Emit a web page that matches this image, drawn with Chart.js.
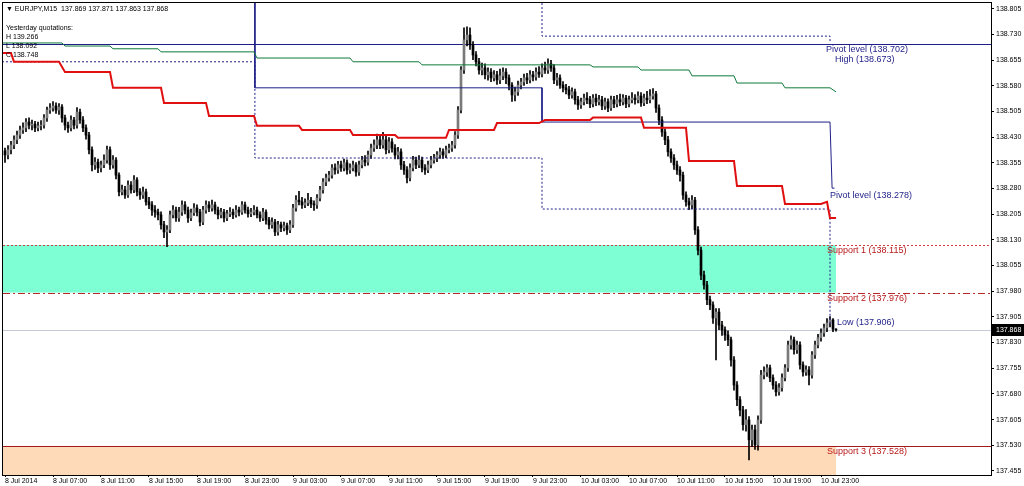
<!DOCTYPE html>
<html>
<head>
<meta charset="utf-8">
<title>EURJPY,M15</title>
<script src="https://cdn.jsdelivr.net/npm/chart.js@4.4.1/dist/chart.umd.min.js"></script>
<style>
  html, body { margin: 0; padding: 0; background: #fff; }
</style>
</head>
<body>
<canvas id="myChart" width="1024" height="486"></canvas>
<script>
// EURJPY M15 bars, 8 Jul 03:00 .. 11 Jul 00:15 (open of each bar = close of the one before)
var firstOpen = 138.390;
var closes = [
  138.378,138.393,138.407,138.422,138.436,138.451,138.457,138.474,138.465,138.468,
  138.457,138.463,138.465,138.486,138.509,138.515,138.521,138.509,138.518,138.486,
  138.465,138.457,138.480,138.465,138.503,138.480,138.457,138.436,138.393,138.349,
  138.357,138.340,138.349,138.363,138.393,138.349,138.363,138.319,138.270,138.276,
  138.261,138.290,138.276,138.305,138.270,138.261,138.270,138.241,138.232,138.217,
  138.211,138.203,138.174,138.153,138.159,138.203,138.217,138.194,138.211,138.232,
  138.217,138.194,138.209,138.223,138.211,138.182,138.217,138.232,138.223,138.232,
  138.217,138.203,138.211,138.194,138.206,138.211,138.203,138.217,138.211,138.232,
  138.217,138.206,138.211,138.217,138.203,138.194,138.211,138.188,138.174,138.182,
  138.153,138.174,138.165,138.171,138.159,138.174,138.223,138.246,138.241,138.232,
  138.238,138.246,138.235,138.232,138.252,138.276,138.299,138.311,138.319,138.340,
  138.334,138.349,138.340,138.355,138.334,138.340,138.349,138.328,138.349,138.363,
  138.357,138.378,138.398,138.407,138.422,138.407,138.422,138.393,138.416,138.398,
  138.378,138.387,138.349,138.334,138.311,138.340,138.363,138.349,138.363,138.340,
  138.334,138.349,138.363,138.369,138.378,138.387,138.378,138.393,138.398,138.407,
  138.436,138.509,138.626,138.714,138.728,138.699,138.670,138.650,138.626,138.632,
  138.612,138.620,138.603,138.612,138.597,138.609,138.620,138.603,138.582,138.553,
  138.562,138.582,138.591,138.603,138.597,138.612,138.606,138.620,138.614,138.632,
  138.626,138.644,138.632,138.597,138.603,138.582,138.574,138.568,138.553,138.562,
  138.539,138.524,138.533,138.544,138.539,138.527,138.544,138.533,138.539,138.521,
  138.533,138.515,138.539,138.527,138.539,138.533,138.544,138.527,138.539,138.544,
  138.539,138.550,138.530,138.544,138.539,138.550,138.556,138.515,138.480,138.445,
  138.422,138.387,138.369,138.349,138.334,138.319,138.261,138.241,138.232,138.246,
  138.159,138.100,138.027,137.998,137.955,137.940,137.902,137.919,137.881,137.867,
  137.852,137.838,137.779,137.706,137.663,137.633,137.590,137.604,137.546,137.575,
  137.531,137.604,137.735,137.744,137.756,137.727,137.706,137.686,137.698,137.727,
  137.756,137.823,137.838,137.809,137.823,137.765,137.744,137.750,137.735,137.794,
  137.823,137.844,137.858,137.873,137.887,137.896,137.869,137.868
];
var highs = [
  138.398,138.405,138.418,138.434,138.448,138.462,138.472,138.484,138.486,138.480,
  138.476,138.474,138.478,138.496,138.518,138.528,138.534,138.530,138.528,138.525,
  138.494,138.474,138.492,138.488,138.516,138.512,138.490,138.466,138.444,138.402,
  138.370,138.366,138.360,138.378,138.404,138.402,138.376,138.370,138.326,138.290,
  138.286,138.302,138.300,138.318,138.312,138.280,138.284,138.278,138.254,138.242,
  138.230,138.220,138.212,138.184,138.172,138.214,138.230,138.226,138.225,138.244,
  138.242,138.226,138.220,138.236,138.232,138.219,138.228,138.244,138.242,138.246,
  138.240,138.226,138.222,138.219,138.216,138.224,138.220,138.230,138.226,138.242,
  138.240,138.226,138.222,138.230,138.226,138.212,138.222,138.218,138.196,138.194,
  138.190,138.184,138.182,138.182,138.179,138.186,138.234,138.259,138.272,138.254,
  138.250,138.266,138.254,138.244,138.262,138.286,138.309,138.322,138.330,138.350,
  138.352,138.359,138.360,138.366,138.364,138.352,138.360,138.356,138.360,138.374,
  138.376,138.389,138.410,138.422,138.439,138.432,138.444,138.432,138.429,138.426,
  138.408,138.400,138.396,138.359,138.344,138.352,138.374,138.372,138.376,138.372,
  138.350,138.360,138.374,138.380,138.388,138.398,138.396,138.404,138.410,138.418,
  138.446,138.519,138.636,138.749,138.752,138.749,138.709,138.680,138.660,138.646,
  138.644,138.632,138.630,138.624,138.622,138.629,138.632,138.630,138.612,138.589,
  138.576,138.594,138.602,138.614,138.616,138.624,138.622,138.632,138.636,138.644,
  138.649,138.659,138.654,138.642,138.616,138.612,138.592,138.584,138.578,138.574,
  138.570,138.549,138.544,138.556,138.560,138.549,138.554,138.556,138.552,138.549,
  138.544,138.542,138.550,138.549,138.552,138.556,138.554,138.552,138.550,138.560,
  138.554,138.562,138.560,138.556,138.564,138.569,138.572,138.564,138.524,138.490,
  138.454,138.432,138.396,138.379,138.360,138.344,138.328,138.270,138.252,138.259,
  138.254,138.169,138.109,138.039,138.009,137.966,137.949,137.929,137.929,137.892,
  137.876,137.864,137.846,137.789,137.716,137.672,137.644,137.634,137.614,137.589,
  137.589,137.616,137.749,137.759,137.766,137.764,137.736,137.716,137.710,137.739,
  137.766,137.834,137.850,137.846,137.834,137.832,137.774,137.762,137.760,137.804,
  137.834,137.854,137.870,137.884,137.900,137.906,137.900,137.871
];
var lows = [
  138.356,138.366,138.381,138.396,138.411,138.426,138.441,138.446,138.454,138.451,
  138.446,138.448,138.451,138.456,138.476,138.499,138.506,138.499,138.496,138.474,
  138.451,138.444,138.448,138.454,138.456,138.470,138.446,138.424,138.381,138.331,
  138.336,138.326,138.328,138.341,138.354,138.336,138.339,138.308,138.258,138.261,
  138.251,138.254,138.266,138.268,138.258,138.248,138.251,138.231,138.221,138.201,
  138.196,138.188,138.161,138.136,138.110,138.151,138.194,138.184,138.184,138.201,
  138.206,138.181,138.186,138.201,138.200,138.171,138.174,138.208,138.212,138.214,
  138.206,138.191,138.194,138.182,138.186,138.198,138.192,138.196,138.200,138.204,
  138.208,138.196,138.198,138.203,138.194,138.184,138.186,138.176,138.162,138.164,
  138.142,138.144,138.154,138.156,138.146,138.151,138.166,138.214,138.232,138.222,
  138.224,138.230,138.224,138.216,138.222,138.244,138.266,138.288,138.301,138.310,
  138.322,138.324,138.330,138.331,138.322,138.324,138.331,138.316,138.318,138.340,
  138.346,138.348,138.368,138.388,138.396,138.396,138.398,138.381,138.384,138.386,
  138.366,138.366,138.336,138.321,138.296,138.302,138.331,138.338,138.341,138.328,
  138.321,138.326,138.340,138.354,138.358,138.368,138.368,138.370,138.384,138.388,
  138.398,138.426,138.501,138.616,138.696,138.686,138.656,138.638,138.614,138.612,
  138.600,138.596,138.592,138.594,138.584,138.586,138.598,138.586,138.568,138.534,
  138.536,138.552,138.571,138.581,138.586,138.588,138.594,138.596,138.604,138.606,
  138.616,138.616,138.622,138.586,138.581,138.572,138.562,138.556,138.542,138.544,
  138.526,138.511,138.514,138.524,138.528,138.516,138.518,138.522,138.524,138.510,
  138.511,138.504,138.508,138.516,138.518,138.522,138.524,138.516,138.518,138.530,
  138.526,138.530,138.520,138.522,138.528,138.530,138.541,138.502,138.466,138.432,
  138.408,138.374,138.356,138.336,138.321,138.301,138.248,138.228,138.218,138.221,
  138.146,138.086,138.014,137.986,137.941,137.926,137.886,137.779,137.868,137.851,
  137.836,137.821,137.761,137.691,137.646,137.616,137.574,137.571,137.487,137.526,
  137.518,137.516,137.594,137.724,137.731,137.716,137.694,137.674,137.676,137.688,
  137.718,137.746,137.811,137.796,137.798,137.752,137.732,137.734,137.706,137.726,
  137.784,137.814,137.834,137.848,137.862,137.876,137.862,137.863
];

// time axis: one label every 16 bars (4 hours)
var timeTickBars = [0,16,32,48,64,80,96,112,128,144,160,176,192,208,224,240,256,272];
var timeLabels = ["8 Jul 2014","8 Jul 07:00","8 Jul 11:00","8 Jul 15:00","8 Jul 19:00","8 Jul 23:00",
  "9 Jul 03:00","9 Jul 07:00","9 Jul 11:00","9 Jul 15:00","9 Jul 19:00","9 Jul 23:00",
  "10 Jul 03:00","10 Jul 07:00","10 Jul 11:00","10 Jul 15:00","10 Jul 19:00","10 Jul 23:00"];
var priceTicks = [138.805,138.730,138.655,138.580,138.505,138.430,138.355,138.280,138.205,138.130,
  138.055,137.980,137.905,137.830,137.755,137.680,137.605,137.530,137.455];

// pivot levels
var pivotLevel = 138.702, highLevel = 138.673, pivotNext = 138.278, lowLevel = 137.906;
var support1 = 138.115, support2 = 137.976, support3 = 137.528, lastPrice = 137.868;
var headerQuote = [137.869, 137.871, 137.863, 137.868];
var yesterday = {H: 139.266, L: 138.092, C: 138.748};

// indicator lines as [bar, price] corners
var redSteps = [[-1,138.676],[2,138.676],[3,138.650],[18,138.650],[20,138.620],[35,138.620],[36,138.574],
  [52,138.574],[53,138.530],[67,138.530],[68,138.492],[83,138.492],[84,138.463],[98,138.463],
  [99,138.451],[115,138.451],[116,138.436],[130,138.436],[131,138.428],[147,138.428],[148,138.451],
  [163,138.451],[164,138.471],[178,138.471],[180,138.480],[195,138.480],[196,138.487],[212,138.487],
  [213,138.457],[227,138.457],[228,138.360],[243,138.360],[244,138.287],[259,138.287],[260,138.235],
  [272,138.235],[274,138.241],[275,138.194],[277,138.194]];
var greenSteps = [[-1,138.705],[19,138.705],[20,138.696],[35,138.696],[36,138.688],[51,138.688],
  [52,138.679],[83,138.679],[84,138.661],[115,138.661],[116,138.650],[138,138.650],[139,138.641],
  [195,138.641],[196,138.635],[211,138.635],[212,138.626],[228,138.626],[229,138.609],[243,138.609],
  [244,138.588],[259,138.588],[260,138.574],[275,138.574],[277,138.562]];
var pivotSteps = [[83.3,138.95],[83.3,138.574],[179,138.574],[179,138.474],[275,138.474],
  [275.7,138.281],[276.5,138.281]];
var lowerDashed = [[-1,138.650],[83.3,138.650],[83.3,138.369],[179,138.369],[179,138.220],
  [275,138.220],[275,137.881]];
var upperDashed = [[179,138.95],[179,138.725],[275,138.725],[275,138.706]];

var FONT = "'Liberation Sans', Arial, sans-serif";
var NAVY = "#1e1e88", RED = "#b81818";

var opens = closes.map(function (c, i) { return i === 0 ? firstOpen : closes[i - 1]; });
var wicks = closes.map(function (c, i) { return {x: i, y: [lows[i], highs[i]]}; });
var bodies = closes.map(function (c, i) { return {x: i, y: [opens[i], c]}; });
var bodyColors = closes.map(function (c, i) { return c > opens[i] ? "#7a7a7a" : "#000000"; });

function pts(a) { return a.map(function (p) { return {x: p[0], y: p[1]}; }); }

function lineSet(a, color, width, dash) {
  return {type: "line", data: pts(a), borderColor: color, borderWidth: width, borderDash: dash || [],
    pointRadius: 0, tension: 0, fill: false, order: 0};
}

var levelsPlugin = {
  id: "levels",
  beforeDatasetsDraw: function (chart) {
    var ctx = chart.ctx, a = chart.chartArea, x = chart.scales.x, y = chart.scales.y;
    var zoneEnd = x.getPixelForValue(closes.length - 1);
    ctx.save();
    var y1 = y.getPixelForValue(support1), y2 = y.getPixelForValue(support2), y3 = y.getPixelForValue(support3);
    ctx.fillStyle = "#7fffd4";
    ctx.fillRect(a.left, y1, zoneEnd - a.left, y2 - y1);
    ctx.fillStyle = "#ffdab9";
    ctx.fillRect(a.left, y3, zoneEnd - a.left, a.bottom - y3);
    function hline(v, color, dash) {
      var py = Math.round(y.getPixelForValue(v)) + 0.5;
      ctx.beginPath();
      ctx.setLineDash(dash);
      ctx.strokeStyle = color;
      ctx.lineWidth = 1;
      ctx.moveTo(a.left, py);
      ctx.lineTo(a.right, py);
      ctx.stroke();
    }
    hline(lastPrice, "#c4cad6", []);
    hline(support1, "#d04040", [2, 2]);
    hline(support2, "#b82828", [7, 3, 2, 3]);
    hline(support3, "#a01c1c", []);
    hline(pivotLevel, NAVY, []);
    ctx.restore();
  },
  afterDraw: function (chart) {
    var ctx = chart.ctx, a = chart.chartArea, x = chart.scales.x, y = chart.scales.y;
    var end = x.getPixelForValue(closes.length - 1);
    ctx.save();
    ctx.strokeStyle = "#000";
    ctx.lineWidth = 1;
    ctx.strokeRect(a.left - 0.5, a.top - 0.5, a.right - a.left + 1, a.bottom - a.top + 1);

    ctx.textBaseline = "middle";
    ctx.font = "9px " + FONT;
    function label(text, dx, v, color) {
      ctx.fillStyle = color;
      ctx.fillText(text, end + dx, y.getPixelForValue(v) + 6);
    }
    label("Pivot level (" + pivotLevel.toFixed(3) + ")", -10, pivotLevel, NAVY);
    label("High (" + highLevel.toFixed(3) + ")", -1, highLevel, NAVY);
    label("Pivot level (" + pivotNext.toFixed(3) + ")", -6, pivotNext, NAVY);
    label("Support 1 (" + support1.toFixed(3) + ")", -9, support1, RED);
    label("Support 2 (" + support2.toFixed(3) + ")", -9, support2, RED);
    label("Low (" + lowLevel.toFixed(3) + ")", 1, lowLevel + 0.001, NAVY);
    label("Support 3 (" + support3.toFixed(3) + ")", -9, support3, RED);

    ctx.font = "7px " + FONT;
    ctx.fillStyle = "#000";
    ctx.fillText("\u25BC EURJPY,M15  " + headerQuote.map(function (v) { return v.toFixed(3); }).join(" "), a.left + 3, 9);
    ctx.fillText("Yesterday quotations:", a.left + 3, 28);
    ctx.fillText("H " + yesterday.H.toFixed(3), a.left + 3, 37);
    ctx.fillText("L " + yesterday.L.toFixed(3), a.left + 3, 46);
    ctx.fillText("C " + yesterday.C.toFixed(3), a.left + 3, 55);

    var py = Math.round(y.getPixelForValue(lastPrice));
    ctx.fillStyle = "#000";
    ctx.fillRect(a.right + 1, py - 6, chart.width - a.right - 1, 12);
    ctx.fillStyle = "#fff";
    ctx.fillText(lastPrice.toFixed(3), a.right + 5, py);
    ctx.restore();
  }
};

Chart.defaults.font.family = FONT;
Chart.defaults.color = "#000";

var ctx = document.getElementById("myChart");
var myChart = new Chart(ctx, {
  type: "bar",
  data: {
    datasets: [
      lineSet(redSteps, "#e01010", 2),
      lineSet(greenSteps, "#0e7a3a", 1),
      lineSet(pivotSteps, NAVY, 1),
      lineSet(lowerDashed, NAVY, 1, [2, 2]),
      lineSet(upperDashed, NAVY, 1, [2, 2]),
      {data: bodies, backgroundColor: bodyColors, borderWidth: 0, barThickness: 2, grouped: false, order: 1},
      {data: wicks, backgroundColor: "#000", borderWidth: 0, barThickness: 1, grouped: false, order: 2}
    ]
  },
  options: {
    responsive: false,
    animation: false,
    events: [],
    layout: {padding: {left: 3, top: 3, right: 0, bottom: 0}},
    plugins: {legend: {display: false}, tooltip: {enabled: false}},
    scales: {
      x: {
        type: "linear",
        offset: false,
        min: -2 / 3,
        max: 328 + 2 / 3,
        afterBuildTicks: function (s) { s.ticks = timeTickBars.map(function (v) { return {value: v}; }); },
        afterFit: function (s) { s.height = 11; s.paddingLeft = 0; s.paddingRight = 0; },
        grid: {drawOnChartArea: false, offset: false, tickLength: 2, color: "#000"},
        border: {display: true, color: "#000"},
        ticks: {
          autoSkip: false, maxRotation: 0, align: "start", padding: 0,
          font: {size: 7},
          callback: function (v, i) { return timeLabels[i]; }
        }
      },
      y: {
        position: "right",
        min: 137.4432,
        max: 138.8217,
        afterBuildTicks: function (s) { s.ticks = priceTicks.map(function (v) { return {value: v}; }); },
        afterFit: function (s) { s.width = 33; s.paddingTop = 0; s.paddingBottom = 0; },
        grid: {drawOnChartArea: false, tickLength: 3, color: "#000"},
        border: {display: true, color: "#000"},
        ticks: {
          autoSkip: false, padding: 2,
          font: {size: 7},
          callback: function (v) { return v.toFixed(3); }
        }
      }
    }
  },
  plugins: [levelsPlugin]
});
</script>
</body>
</html>
